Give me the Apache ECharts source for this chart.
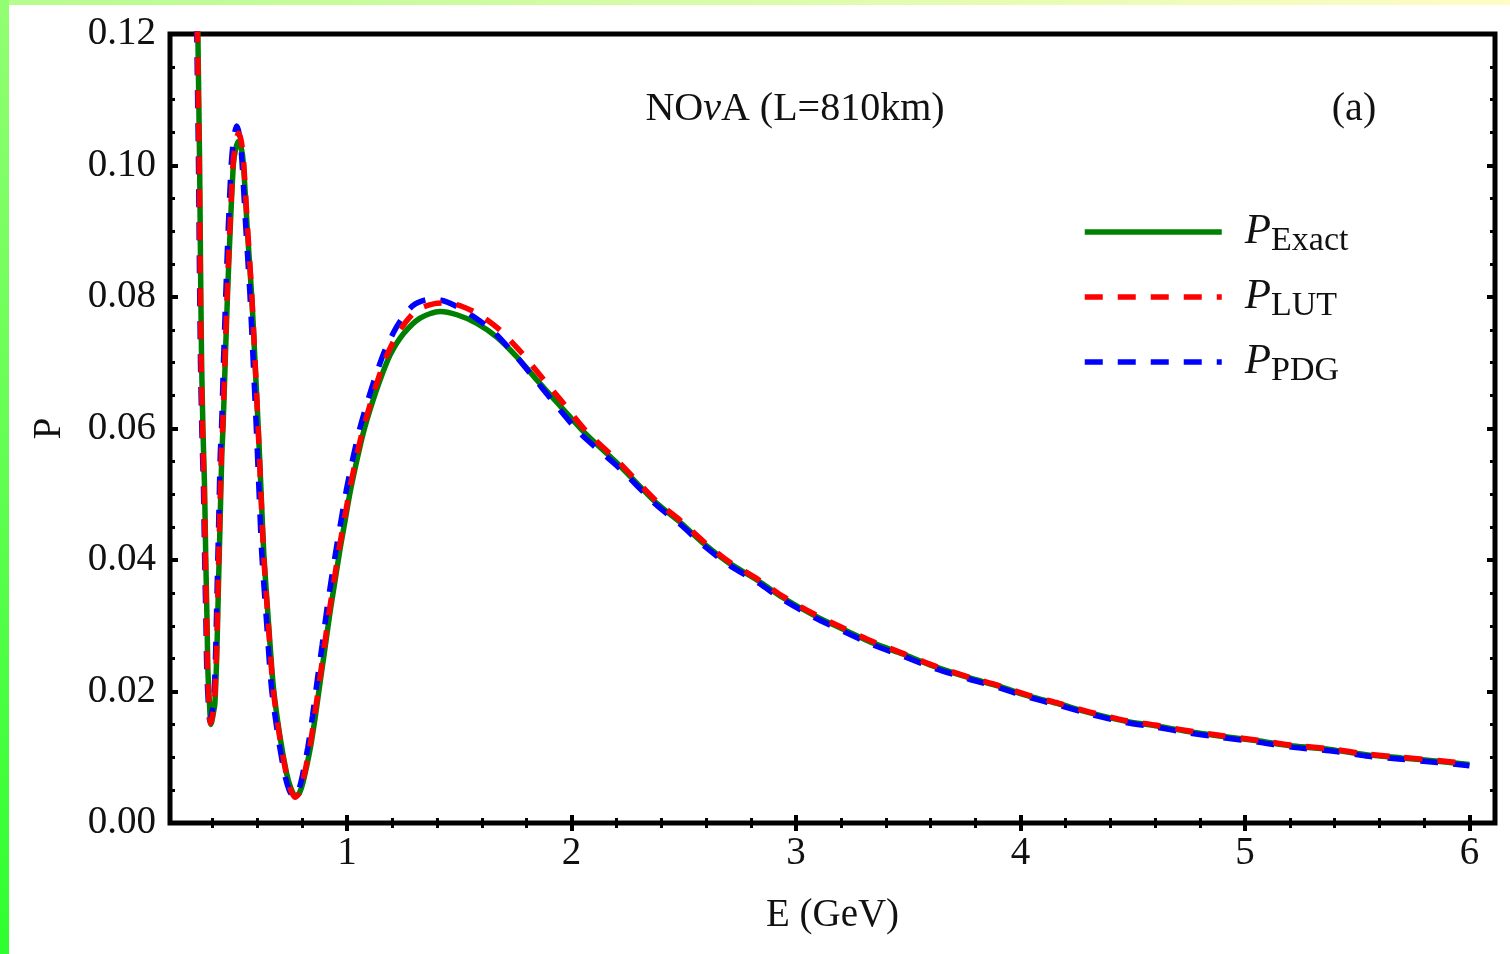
<!DOCTYPE html>
<html><head><meta charset="utf-8">
<script src="https://cdn.jsdelivr.net/npm/echarts@6/dist/echarts.min.js"></script>
<style>html,body{margin:0;padding:0;background:#fff;}#c{width:1510px;height:954px;}</style>
</head><body><div id="c"></div>
<script>
// ---- data ----
const eExact = [0.333,0.337,0.343,0.347,0.352,0.358,0.365,0.370,0.376,0.380,0.387,0.393,0.397,0.403,0.4107,0.4196,0.4267,0.4343,0.4419,0.4477,0.4566,0.4668,0.4788,0.4935,0.5033,0.5158,0.5278,0.5381,0.5559,0.5755,0.5902,0.6049,0.6160,0.6290,0.6494,0.6717,0.7016,0.7314,0.7506,0.7706,0.7880,0.8053,0.8352,0.8575,0.8797,0.9020,0.9243,0.9465,0.9688,0.9911,1.0134,1.0432,1.0726,1.110,1.147,1.192,1.251,1.325,1.414,1.489,1.578,1.667,1.756,1.845,1.934,2.06,2.216,2.377,2.485,2.592,2.699,2.833,2.940,3.074,3.208,3.342,3.476,3.609,3.770,3.904,4.038,4.172,4.306,4.466,4.600,4.733,4.894,5.056,5.216,5.377,5.538,5.698,5.859,6.000];
const pExact = [0.1265,0.1154,0.1002,0.0850,0.0698,0.0596,0.0510,0.0409,0.0307,0.0231,0.0181,0.0150,0.0154,0.0165,0.0181,0.0257,0.0358,0.0459,0.0561,0.0605,0.0698,0.0799,0.0900,0.1002,0.1025,0.1037,0.1028,0.1002,0.0900,0.0799,0.0698,0.0596,0.0510,0.0409,0.0307,0.0206,0.0130,0.0074,0.0052,0.0040,0.0046,0.0064,0.0112,0.0160,0.0214,0.0267,0.0321,0.0369,0.0417,0.0460,0.0503,0.0551,0.0594,0.0637,0.0674,0.0712,0.0744,0.0768,0.0778,0.0773,0.0760,0.0739,0.0709,0.0674,0.0640,0.0593,0.0543,0.0487,0.0457,0.0424,0.0396,0.0368,0.0343,0.0317,0.0295,0.0274,0.0257,0.0239,0.0221,0.0208,0.0193,0.0181,0.0168,0.0155,0.0148,0.0140,0.0132,0.0125,0.0117,0.0112,0.0104,0.0099,0.0094,0.0089];

const eLUT = [0.331,0.335,0.341,0.345,0.350,0.356,0.363,0.368,0.374,0.378,0.385,0.391,0.396,0.402,0.409,0.418,0.425,0.432,0.440,0.446,0.455,0.465,0.477,0.492,0.503,0.516,0.528,0.538,0.556,0.575,0.590,0.604,0.615,0.628,0.648,0.670,0.700,0.730,0.749,0.768,0.786,0.803,0.832,0.854,0.876,0.898,0.920,0.942,0.964,0.987,1.009,1.038,1.067,1.103,1.139,1.183,1.240,1.310,1.390,1.450,1.510,1.590,1.680,1.770,1.860,1.950,2.060,2.216,2.377,2.485,2.592,2.699,2.833,2.940,3.074,3.208,3.342,3.476,3.609,3.770,3.904,4.038,4.172,4.306,4.466,4.600,4.733,4.894,5.056,5.216,5.377,5.538,5.698,5.859,6.000];
const pLUT = [0.1265,0.1154,0.1002,0.0850,0.0698,0.0596,0.0510,0.0409,0.0307,0.0231,0.0181,0.0152,0.0156,0.0167,0.0183,0.0257,0.0358,0.0459,0.0561,0.0605,0.0698,0.0799,0.0900,0.1002,0.1035,0.1049,0.1038,0.1010,0.0908,0.0805,0.0702,0.0598,0.0510,0.0409,0.0307,0.0206,0.0130,0.0073,0.0050,0.0039,0.0045,0.0064,0.0112,0.0160,0.0214,0.0267,0.0321,0.0369,0.0417,0.0460,0.0503,0.0551,0.0594,0.0637,0.0676,0.0716,0.0752,0.0780,0.0790,0.0791,0.0786,0.0773,0.0750,0.0718,0.0681,0.0644,0.0598,0.0547,0.0490,0.0460,0.0427,0.0398,0.0370,0.0345,0.0319,0.0297,0.0276,0.0258,0.0240,0.0222,0.0209,0.0194,0.0182,0.0169,0.0156,0.0149,0.0141,0.0133,0.0126,0.0118,0.0113,0.0105,0.0100,0.0095,0.0090];

const ePDG = [0.328,0.332,0.338,0.342,0.347,0.353,0.360,0.365,0.371,0.375,0.382,0.388,0.393,0.399,0.406,0.414,0.421,0.428,0.435,0.441,0.449,0.459,0.470,0.484,0.495,0.508,0.520,0.530,0.548,0.567,0.582,0.596,0.607,0.620,0.641,0.663,0.693,0.723,0.742,0.762,0.780,0.797,0.825,0.846,0.867,0.889,0.910,0.931,0.953,0.975,0.997,1.026,1.055,1.091,1.127,1.170,1.225,1.290,1.360,1.420,1.480,1.560,1.650,1.740,1.830,1.920,2.040,2.216,2.377,2.485,2.592,2.699,2.833,2.940,3.074,3.208,3.342,3.476,3.609,3.770,3.904,4.038,4.172,4.306,4.466,4.600,4.733,4.894,5.056,5.216,5.377,5.538,5.698,5.859,6.000];
const pPDG = [0.1265,0.1154,0.1002,0.0850,0.0698,0.0596,0.0510,0.0409,0.0307,0.0231,0.0181,0.0155,0.0159,0.0170,0.0185,0.0257,0.0358,0.0459,0.0561,0.0605,0.0698,0.0799,0.0900,0.1002,0.1042,0.1060,0.1047,0.1015,0.0910,0.0805,0.0700,0.0598,0.0510,0.0409,0.0307,0.0206,0.0130,0.0072,0.0050,0.0040,0.0046,0.0066,0.0115,0.0163,0.0217,0.0271,0.0325,0.0373,0.0420,0.0464,0.0507,0.0555,0.0598,0.0641,0.0680,0.0720,0.0757,0.0786,0.0796,0.0795,0.0787,0.0771,0.0748,0.0715,0.0678,0.0640,0.0592,0.0539,0.0484,0.0454,0.0421,0.0393,0.0365,0.0340,0.0314,0.0292,0.0271,0.0254,0.0236,0.0219,0.0206,0.0191,0.0179,0.0166,0.0153,0.0146,0.0138,0.0130,0.0123,0.0115,0.0110,0.0102,0.0097,0.0092,0.0087];

const xMajor = [1,2,3,4,5,6];
const xMinor = [0.4,0.6,0.8,1.2,1.4,1.6,1.8,2.2,2.4,2.6,2.8,3.2,3.4,3.6,3.8,4.2,4.4,4.6,4.8,5.2,5.4,5.6,5.8];
const yMajor = [0,0.02,0.04,0.06,0.08,0.10,0.12];
const yMinor = [0.005,0.01,0.015,0.025,0.03,0.035,0.045,0.05,0.055,0.065,0.07,0.075,0.085,0.09,0.095,0.105,0.11,0.115];
const seriesNames = ['Exact','LUT','PDG'];

// ---- chart ----
const FONT = 'Liberation Serif';
const FS = 39;
const X_MIN = 0.211, X_MAX = 6.114;
const chart = echarts.init(document.getElementById('c'));

function xAx(pos, ticks, len, w, labels, extra) {
  return Object.assign({
    type:'value', position:pos, min:X_MIN, max:X_MAX,
    axisLine:{show:false}, splitLine:{show:false},
    axisTick:{show:true, inside:true, length:len, customValues:ticks, lineStyle:{color:'#000', width:w}},
    axisLabel: labels ? {show:true, customValues:ticks, margin:11, fontFamily:FONT, fontSize:FS, color:'#111', formatter:v=>String(v)} : {show:false}
  }, extra||{});
}
function yAx(pos, ticks, len, w, labels, extra) {
  return Object.assign({
    type:'value', position:pos, min:0, max:0.12,
    axisLine:{show:false}, splitLine:{show:false},
    axisTick:{show:true, inside:true, length:len, customValues:ticks, lineStyle:{color:'#000', width:w}},
    axisLabel: labels ? {show:true, customValues:ticks, margin:14, fontFamily:FONT, fontSize:FS, color:'#111', formatter:v=>v.toFixed(2)} : {show:false}
  }, extra||{});
}
function pairs(es, ps){ return es.map((e,i)=>[e, ps[i]]); }

chart.setOption({
  animation:false,
  backgroundColor:'#fff',
  grid:{left:170, right:15, top:34, bottom:131, show:true, borderColor:'#000', borderWidth:5, backgroundColor:'transparent'},
  xAxis:[
    xAx('bottom', xMajor, 8, 4, true, {name:'E (GeV)', nameLocation:'middle', nameGap:73, nameTextStyle:{fontFamily:FONT, fontSize:FS, color:'#111'}}),
    xAx('bottom', xMinor, 5, 3, false),
    xAx('top', xMajor, 8, 4, false),
    xAx('top', xMinor, 5, 3, false)
  ],
  yAxis:[
    yAx('left', yMajor, 8, 4, true, {name:'P', nameLocation:'middle', nameGap:101, nameRotate:90, nameTextStyle:{fontFamily:FONT, fontSize:FS, color:'#111'}}),
    yAx('left', yMinor, 5, 3, false),
    yAx('right', yMajor, 8, 4, false),
    yAx('right', yMinor, 5, 3, false)
  ],
  legend:{
    orient:'vertical', left:1077, top:201, itemWidth:137, itemHeight:6, itemGap:13,
    data:seriesNames, selectedMode:false,
    itemStyle:{opacity:0},
    lineStyle:{width:5.5},
    formatter: n => '{i|P}{s|' + n + '}',
    textStyle:{
      rich:{
        i:{fontFamily:FONT, fontStyle:'italic', fontSize:43, color:'#111', padding:[0,0,0,18], lineHeight:48},
        s:{fontFamily:FONT, fontSize:34, color:'#111', padding:[18,0,0,0], lineHeight:38}
      }
    }
  },
  graphic:[
    {type:'rect', silent:true, z:-10, shape:{x:0,y:0,width:1510,height:5},
     style:{fill:new echarts.graphic.LinearGradient(0,0,1,0,[{offset:0,color:'#b6fc8e'},{offset:1,color:'#fffcc6'}])}},
    {type:'rect', silent:true, z:-10, shape:{x:0,y:0,width:9,height:954},
     style:{fill:new echarts.graphic.LinearGradient(0,0,0,1,[{offset:0,color:'#92ff72'},{offset:1,color:'#2eff2e'}])}},
    {type:'text', silent:true, x:795, y:109,
     style:{text:'{a|NO}{n|ν}{a|A (L=810km)}', align:'center', verticalAlign:'middle',
       rich:{a:{fontFamily:FONT, fontSize:40, fill:'#111'}, n:{fontFamily:FONT, fontStyle:'italic', fontSize:40, fill:'#111'}}}},
    {type:'text', silent:true, x:1354, y:109,
     style:{text:'(a)', fontFamily:FONT, fontSize:40, fill:'#111', align:'center', verticalAlign:'middle'}}
  ],
  series:[
    {name:'Exact', type:'line', data:pairs(eExact,pExact), symbol:'none', smooth:0.25, z:2,
     lineStyle:{color:'#008000', width:5.5}, itemStyle:{color:'#008000'}},
    {name:'LUT', type:'line', data:pairs(eLUT,pLUT), symbol:'none', smooth:0.25, z:4,
     lineStyle:{color:'#ff0000', width:5.5, type:[18,15]}, itemStyle:{color:'#ff0000'}},
    {name:'PDG', type:'line', data:pairs(ePDG,pPDG), symbol:'none', smooth:0.25, z:3,
     lineStyle:{color:'#0000ff', width:5.5, type:[18,15]}, itemStyle:{color:'#0000ff'}}
  ]
});
</script></body></html>
